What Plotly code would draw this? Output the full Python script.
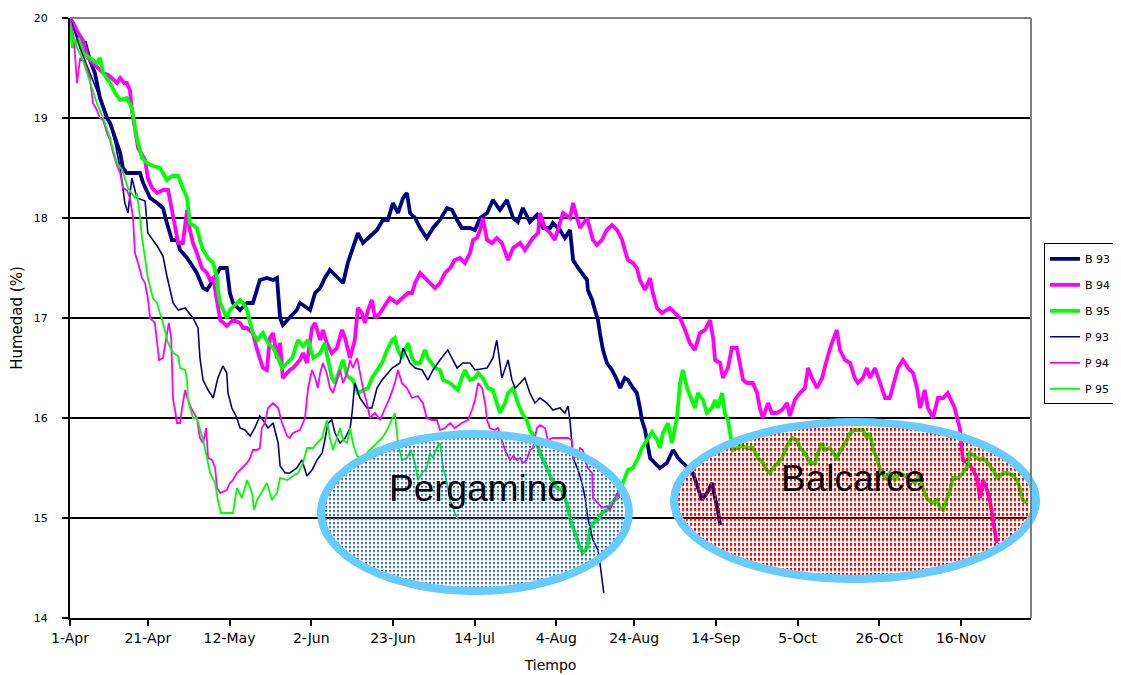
import base64
import plotly.graph_objects as go

# ---------------- data (day offset from 1-Apr, humidity %) ----------------
tick_days = [0, 20, 41, 62, 83, 104, 125, 145, 166, 187, 208, 229]
tick_labels = ["1-Apr", "21-Apr", "12-May", "2-Jun", "23-Jun", "14-Jul",
               "4-Aug", "24-Aug", "14-Sep", "5-Oct", "26-Oct", "16-Nov"]

b93_day = [0, 1.3, 2.6, 3.9, 5.1, 6.4, 7.7, 8.5, 9.5, 10.3, 11.6, 12.9, 13.6, 14.6, 16.2, 18.0, 18.8, 20.6, 22.4, 23.9,
           24.9, 26.2, 27.5, 28.3, 30.1, 31.6, 32.6, 34.2, 35.2, 36.8, 38.6, 40.3, 41.1, 41.9, 43.7, 45.5, 47.0, 48.8, 50.6, 52.2,
           53.2, 53.5, 54.0, 54.7, 56.5, 58.3, 59.1, 61.7, 63.0, 64.3, 65.5, 66.8, 68.4, 70.2, 71.4, 72.7, 74.0, 75.3, 76.6, 78.9,
           80.4, 81.7, 83.0, 84.3, 85.6, 86.6, 87.4, 88.7, 90.0, 91.7, 93.3, 95.1, 96.9, 98.2, 99.5, 100.7, 102.8, 104.1, 105.4, 107.2,
           108.7, 110.5, 112.3, 113.9, 115.1, 116.4, 118.2, 120.0, 121.6, 123.4, 124.1, 125.9, 127.2, 128.5, 129.0, 129.3, 130.6, 131.6, 132.9, 133.1,
           134.2, 134.9, 135.7, 136.2, 137.0, 138.0, 139.3, 140.6, 141.4, 142.6, 143.4, 144.7, 145.7, 146.5, 147.0, 147.8, 148.3, 149.1, 150.3, 151.6,
           153.4, 155.0, 156.3, 157.5, 160.1, 161.4, 162.4, 163.7, 165.0, 165.8, 166.5, 167.1]
b93_hum = [20.0, 19.9, 19.75, 19.75, 19.58, 19.45, 19.2, 19.1, 19.0, 18.95, 18.8, 18.65, 18.5, 18.45, 18.45, 18.45, 18.35, 18.2, 18.15, 18.1,
           17.95, 17.78, 17.78, 17.68, 17.6, 17.5, 17.45, 17.3, 17.28, 17.38, 17.5, 17.5, 17.25, 17.15, 17.08, 17.15, 17.15, 17.38, 17.4, 17.38,
           17.4, 17.25, 17.0, 16.93, 17.0, 17.08, 17.15, 17.08, 17.25, 17.3, 17.4, 17.48, 17.42, 17.35, 17.55, 17.7, 17.85, 17.75, 17.8, 17.88,
           17.98, 17.98, 18.15, 18.05, 18.2, 18.25, 18.05, 18.0, 17.9, 17.8, 17.9, 17.98, 18.1, 18.08, 17.98, 17.9, 17.9, 17.88, 18.0, 18.05,
           18.18, 18.08, 18.18, 18.0, 17.96, 18.1, 17.96, 18.03, 17.9, 17.9, 17.95, 17.88, 17.8, 17.88, 17.7, 17.58, 17.5, 17.45, 17.38, 17.28,
           17.18, 17.08, 16.98, 16.85, 16.68, 16.55, 16.48, 16.38, 16.3, 16.4, 16.38, 16.3, 16.25, 16.1, 15.98, 15.88, 15.78, 15.6, 15.55, 15.5,
           15.55, 15.68, 15.6, 15.55, 15.45, 15.3, 15.18, 15.25, 15.35, 15.2, 15.08, 14.93]

b94_day = [0, 0.8, 2.1, 3.3, 4.6, 5.9, 7.2, 8.5, 9.8, 11.1, 12.1, 12.9, 13.9, 14.6, 15.4, 15.9, 16.7, 17.5, 19.3, 20.0,
           21.1, 22.4, 23.9, 25.2, 26.2, 27.0, 27.8, 29.0, 29.8, 30.1, 30.8, 31.6, 32.6, 33.9, 35.2, 36.0, 36.8, 37.5, 38.6, 40.3,
           41.9, 43.7, 44.5, 45.5, 47.0, 48.1, 48.8, 49.6, 50.6, 51.4, 52.2, 53.2, 54.0, 54.7, 56.5, 57.3, 59.1, 59.9, 60.9, 62.2,
           63.0, 64.3, 65.0, 66.0, 67.3, 68.6, 69.9, 70.7, 72.0, 73.2, 74.0, 75.0, 75.8, 76.6, 77.6, 78.4, 79.7, 81.0, 82.2, 84.0,
           85.6, 86.9, 87.9, 88.7, 90.0, 91.2, 92.5, 93.8, 95.1, 96.4, 97.7, 98.9, 100.2, 101.5, 102.8, 103.6, 104.6, 105.4, 106.1, 107.2,
           108.5, 109.7, 111.0, 111.8, 112.6, 113.9, 115.7, 116.9, 118.2, 119.0, 120.3, 120.8, 122.1, 123.4, 124.6, 126.7, 128.5, 129.3, 130.3, 131.1,
           132.9, 133.6, 134.4, 135.4, 136.7, 138.0, 139.3, 140.6, 141.9, 142.6, 143.4, 144.7, 145.7, 146.5, 147.8, 149.1, 149.8, 150.9, 152.1, 153.4,
           154.2, 155.5, 156.8, 158.1, 159.3, 160.6, 161.9, 163.2, 164.5, 165.3, 165.8, 167.1, 167.8, 169.1, 170.1, 171.4, 172.2, 173.0, 174.0, 175.5,
           176.6, 177.3, 178.1, 179.4, 180.4, 181.7, 183.0, 184.3, 185.0, 186.3, 187.6, 188.9, 189.7, 190.7, 192.0, 193.3, 194.5, 195.8, 197.1, 197.9,
           199.2, 200.5, 201.7, 202.5, 203.8, 204.8, 205.6, 206.9, 208.2, 209.5, 210.7, 212.0, 212.8, 214.1, 215.4, 216.7, 217.7, 218.5, 219.7, 220.5,
           221.8, 223.1, 224.4, 225.6, 226.7, 227.4, 228.0, 228.7, 229.2, 229.5, 230.8, 232.1, 233.1, 233.9, 234.6, 235.7, 236.4, 237.2, 237.7, 238.2]
b94_hum = [20.0, 19.95, 19.85, 19.78, 19.6, 19.55, 19.5, 19.45, 19.43, 19.38, 19.35, 19.4, 19.35, 19.35, 19.28, 19.08, 18.88, 18.7, 18.58, 18.4,
           18.3, 18.25, 18.28, 18.28, 18.08, 17.9, 17.75, 17.75, 17.95, 18.08, 17.88, 17.75, 17.65, 17.5, 17.45, 17.38, 17.4, 17.25, 16.98, 16.92,
           16.98, 16.95, 16.9, 16.9, 16.85, 16.68, 16.58, 16.5, 16.48, 16.8, 16.85, 16.6, 16.75, 16.4, 16.48, 16.5, 16.58, 16.65, 16.55, 16.9,
           16.95, 16.78, 16.88, 16.75, 16.65, 16.7, 16.88, 16.8, 16.6, 16.78, 17.1, 17.05, 16.95, 17.08, 17.18, 17.0, 17.05, 17.12, 17.2, 17.15,
           17.2, 17.25, 17.25, 17.35, 17.45, 17.4, 17.35, 17.3, 17.35, 17.45, 17.5, 17.58, 17.6, 17.55, 17.65, 17.78, 17.8, 17.88, 18.0, 17.78,
           17.75, 17.8, 17.75, 17.65, 17.58, 17.7, 17.75, 17.68, 17.75, 17.8, 17.85, 18.05, 17.9, 17.85, 17.78, 18.05, 18.0, 18.15, 18.0, 17.9,
           18.0, 17.9, 17.78, 17.73, 17.78, 17.88, 17.93, 17.88, 17.78, 17.68, 17.58, 17.55, 17.5, 17.38, 17.28, 17.4, 17.25, 17.1, 17.05, 17.08,
           17.1, 17.05, 17.0, 16.88, 16.75, 16.68, 16.85, 16.88, 16.98, 16.8, 16.58, 16.55, 16.4, 16.5, 16.7, 16.7, 16.55, 16.38, 16.35, 16.35,
           16.25, 16.1, 16.0, 16.15, 16.05, 16.05, 16.08, 16.15, 16.02, 16.18, 16.25, 16.3, 16.5, 16.4, 16.3, 16.4, 16.58, 16.75, 16.88, 16.68,
           16.58, 16.55, 16.4, 16.35, 16.4, 16.5, 16.4, 16.5, 16.35, 16.2, 16.2, 16.4, 16.5, 16.58, 16.5, 16.45, 16.3, 16.1, 16.28, 16.1,
           16.0, 16.2, 16.2, 16.25, 16.15, 16.1, 16.0, 15.9, 15.7, 15.58, 15.55, 15.48, 15.4, 15.2, 15.38, 15.28, 15.18, 15.0, 14.85, 14.75]

b95_day = [0, 0.8, 2.1, 3.3, 5.1, 6.9, 7.7, 8.5, 10.3, 11.6, 12.9, 14.6, 15.9, 16.4, 17.2, 18.5, 19.8, 21.3, 23.1, 23.9,
           24.9, 26.2, 27.8, 29.0, 30.1, 30.8, 32.6, 33.4, 34.2, 35.5, 36.8, 37.8, 38.0, 38.6, 39.8, 40.3, 41.1, 42.1, 43.7, 44.5,
           45.5, 46.3, 47.0, 48.1, 49.6, 50.9, 52.2, 53.5, 54.5, 55.8, 57.1, 58.6, 59.9, 61.2, 62.5, 64.3, 65.5, 66.3, 67.3, 68.1,
           69.4, 70.2, 71.2, 72.7, 74.0, 75.3, 76.6, 77.6, 78.9, 80.2, 81.5, 82.8, 83.5, 84.3, 85.3, 86.9, 87.9, 88.7, 90.0, 91.2,
           92.0, 93.0, 93.8, 95.1, 95.9, 97.7, 98.9, 99.7, 100.7, 101.5, 102.8, 104.1, 104.9, 106.1, 107.4, 108.7, 109.7, 110.5, 111.8, 112.6,
           113.9, 115.1, 116.2, 117.4, 118.2, 119.5, 120.8, 122.1, 122.8, 123.9, 125.2, 126.4, 127.7, 128.5, 129.3, 130.3, 131.1, 131.8, 132.9, 133.6,
           134.4, 135.7, 136.7, 138.0, 139.3, 140.6, 142.1, 143.4, 144.7, 146.0, 147.0, 148.3, 149.6, 150.9, 151.6, 152.4, 153.7, 154.7, 155.5, 156.0,
           156.8, 157.5, 158.6, 159.8, 160.6, 161.4, 162.7, 163.7, 165.0, 165.8, 166.5, 167.6, 168.3, 169.1, 169.6, 170.4, 171.4, 172.7, 174.0, 175.5,
           176.8, 178.1, 179.1, 179.9, 180.7, 181.7, 183.0, 184.3, 185.6, 186.8, 187.6, 188.9, 190.2, 191.5, 192.2, 193.3, 194.0, 195.3, 196.1, 197.1,
           198.4, 199.7, 200.5, 201.7, 203.8, 204.8, 205.6, 206.4, 207.4, 208.2, 209.5, 210.7, 212.0, 213.3, 214.6, 215.9, 217.2, 218.5, 219.2, 220.2,
           221.5, 222.8, 223.6, 224.4, 225.4, 226.2, 226.9, 228.2, 229.5, 230.5, 231.3, 232.6, 233.9, 234.6, 235.9, 237.2, 238.5, 239.8, 241.1, 242.4,
           243.4, 244.2, 244.9, 246.0]
b95_hum = [19.95, 19.7, 19.8, 19.65, 19.6, 19.55, 19.6, 19.45, 19.35, 19.25, 19.18, 19.2, 19.1, 18.98, 18.8, 18.6, 18.55, 18.52, 18.5, 18.45,
           18.38, 18.42, 18.42, 18.3, 18.2, 17.95, 17.9, 17.78, 17.68, 17.6, 17.55, 17.4, 17.28, 17.15, 17.05, 17.0, 17.08, 17.12, 17.18, 17.15,
           17.08, 16.95, 16.85, 16.78, 16.85, 16.75, 16.7, 16.6, 16.5, 16.55, 16.6, 16.78, 16.72, 16.78, 16.6, 16.65, 16.75, 16.58, 16.4, 16.35,
           16.5, 16.58, 16.42, 16.38, 16.25, 16.28, 16.3, 16.4, 16.48, 16.55, 16.68, 16.78, 16.8, 16.68, 16.6, 16.75, 16.6, 16.55, 16.55, 16.68,
           16.6, 16.55, 16.5, 16.48, 16.38, 16.35, 16.3, 16.28, 16.4, 16.48, 16.38, 16.4, 16.45, 16.4, 16.3, 16.28, 16.15, 16.05, 16.15, 16.25,
           16.3, 16.15, 16.05, 15.98, 15.88, 15.8, 15.65, 15.55, 15.48, 15.38, 15.3, 15.28, 15.15, 15.0, 14.9, 14.8, 14.7, 14.65, 14.7, 14.88,
           14.95, 14.98, 15.05, 15.08, 15.15, 15.2, 15.35, 15.48, 15.5, 15.6, 15.7, 15.78, 15.86, 15.78, 15.7, 15.85, 15.95, 15.75, 15.9, 16.0,
           16.35, 16.48, 16.3, 16.18, 16.1, 16.25, 16.18, 16.05, 16.1, 16.18, 16.1, 16.25, 16.05, 15.98, 15.85, 15.68, 15.7, 15.72, 15.7, 15.7,
           15.6, 15.55, 15.48, 15.45, 15.5, 15.55, 15.6, 15.72, 15.8, 15.78, 15.7, 15.65, 15.55, 15.55, 15.65, 15.75, 15.68, 15.7, 15.65, 15.6,
           15.7, 15.78, 15.85, 15.88, 15.88, 15.8, 15.85, 15.68, 15.6, 15.48, 15.4, 15.45, 15.38, 15.45, 15.42, 15.38, 15.35, 15.45, 15.3, 15.2,
           15.15, 15.18, 15.1, 15.08, 15.18, 15.28, 15.4, 15.4, 15.45, 15.5, 15.65, 15.62, 15.58, 15.6, 15.55, 15.48, 15.4, 15.45, 15.45, 15.42,
           15.38, 15.28, 15.18, 15.15]

p93_day = [0, 2.6, 5.1, 7.7, 10.3, 11.6, 12.9, 14.1, 14.9, 15.9, 17.2, 19.3, 20.0, 22.4, 23.9, 24.9, 26.5, 27.8, 29.6, 31.6,
           32.9, 33.4, 34.2, 35.5, 36.8, 38.0, 39.3, 40.3, 40.6, 41.6, 42.9, 43.7, 45.0, 46.3, 47.5, 48.8, 49.6, 50.9, 52.2, 53.5,
           54.0, 55.3, 56.5, 58.3, 59.6, 60.9, 62.2, 63.5, 64.8, 65.5, 66.3, 67.3, 68.1, 69.4, 70.7, 72.0, 72.5, 73.2, 74.5, 76.3,
           77.6, 78.9, 80.2, 82.8, 84.8, 85.6, 87.4, 88.7, 90.5, 92.0, 93.3, 95.1, 97.1, 98.4, 99.5, 101.0, 102.8, 104.1, 107.2, 108.7,
           109.7, 111.0, 112.6, 113.6, 114.4, 115.7, 116.9, 118.2, 119.5, 120.8, 122.6, 124.1, 125.9, 127.2, 128.0, 128.5, 129.3, 130.6, 131.6, 132.4,
           133.1, 134.4, 135.7, 136.2, 136.7, 137.2]
p93_hum = [20.0, 19.7, 19.45, 19.2, 18.95, 18.75, 18.5, 18.15, 18.05, 18.4, 18.2, 18.17, 17.85, 17.72, 17.62, 17.42, 17.15, 17.08, 17.1, 17.0,
           16.9, 16.6, 16.38, 16.28, 16.2, 16.4, 16.52, 16.45, 16.25, 16.1, 16.0, 15.9, 15.88, 15.82, 15.9, 16.02, 15.98, 15.9, 15.95, 15.75,
           15.52, 15.45, 15.45, 15.5, 15.58, 15.42, 15.48, 15.58, 15.65, 15.78, 15.95, 15.98, 15.85, 15.75, 15.8, 15.9, 16.05, 16.35, 16.2, 16.1,
           16.1, 16.3, 16.38, 16.5, 16.55, 16.7, 16.55, 16.5, 16.48, 16.38, 16.48, 16.58, 16.68, 16.58, 16.5, 16.55, 16.55, 16.48, 16.5, 16.6,
           16.78, 16.4, 16.58, 16.38, 16.3, 16.35, 16.4, 16.25, 16.15, 16.2, 16.15, 16.08, 16.1, 16.05, 16.12, 15.98, 15.6, 15.48, 15.35, 15.2,
           15.0, 14.78, 14.68, 14.55, 14.4, 14.25]

p94_day = [0, 1.0, 1.8, 2.6, 3.9, 5.1, 5.9, 6.9, 7.7, 8.5, 9.5, 10.3, 11.1, 12.1, 12.9, 13.6, 14.6, 15.4, 15.9, 16.2,
           16.7, 17.5, 18.5, 19.3, 20.0, 20.6, 21.8, 22.4, 22.9, 23.9, 24.9, 25.4, 26.0, 26.2, 26.5, 27.0, 27.5, 28.3, 28.8, 29.6,
           30.3, 31.4, 32.6, 33.4, 34.2, 35.0, 35.5, 36.5, 37.3, 37.8, 38.6, 40.3, 41.1, 41.9, 42.9, 43.7, 45.5, 46.3, 47.0, 48.1,
           48.8, 49.3, 50.1, 50.9, 52.2, 53.5, 54.5, 55.8, 56.5, 57.3, 59.1, 60.4, 61.2, 62.2, 63.0, 63.7, 64.3, 65.0, 66.0, 66.8,
           67.6, 68.6, 69.4, 70.2, 71.2, 72.0, 72.7, 73.8, 74.5, 75.3, 76.3, 77.1, 78.4, 79.7, 81.0, 82.2, 83.5, 84.3, 85.3, 86.6,
           87.9, 89.4, 90.7, 91.7, 93.0, 94.3, 95.1, 96.4, 97.7, 98.9, 100.7, 102.3, 103.3, 104.1, 104.9, 105.9, 106.7, 107.2, 107.9, 109.2,
           110.0, 111.0, 111.8, 113.1, 113.9, 114.9, 115.7, 116.4, 117.4, 118.2, 119.0, 120.0, 120.8, 122.1, 122.8, 124.1, 126.4, 128.0, 129.0, 129.3,
           130.3, 131.1, 131.8, 133.1, 134.2, 134.4, 135.7, 136.7, 138.0, 138.8, 139.6, 140.6, 141.4]
p94_hum = [20.0, 19.8, 19.35, 19.6, 19.55, 19.4, 19.15, 19.08, 19.0, 18.98, 18.85, 18.78, 18.65, 18.52, 18.45, 18.3, 18.28, 18.2, 18.08, 18.0,
           17.65, 17.55, 17.4, 17.35, 17.2, 17.0, 16.95, 16.75, 16.58, 16.6, 16.85, 16.95, 16.8, 16.5, 16.18, 16.08, 15.95, 15.95, 16.1, 16.28,
           16.18, 16.08, 16.0, 15.8, 15.75, 15.9, 15.6, 15.58, 15.5, 15.3, 15.25, 15.28, 15.35, 15.38, 15.45, 15.48, 15.55, 15.6, 15.68, 15.68,
           15.7, 15.9, 15.95, 16.1, 16.15, 16.1, 15.95, 15.82, 15.8, 15.85, 15.88, 16.0, 16.3, 16.48, 16.4, 16.3, 16.45, 16.55, 16.45, 16.3,
           16.25, 16.38, 16.48, 16.35, 16.45, 16.58, 16.5, 16.6, 16.45, 16.3, 16.15, 16.0, 16.05, 15.98, 16.1, 16.2, 16.35, 16.48, 16.35, 16.3,
           16.2, 16.22, 16.15, 16.0, 15.98, 15.98, 15.88, 15.9, 15.95, 15.9, 15.95, 15.98, 16.08, 16.18, 16.35, 16.3, 16.15, 15.98, 15.9, 15.88,
           15.9, 15.78, 15.68, 15.58, 15.62, 15.58, 15.6, 15.55, 15.58, 15.68, 15.7, 15.9, 15.93, 15.9, 15.78, 15.8, 15.8, 15.8, 15.78, 15.6,
           15.62, 15.7, 15.68, 15.5, 15.45, 15.2, 15.15, 15.1, 15.12, 15.08, 15.15, 15.25, 15.2]

p95_day = [0, 0.8, 1.8, 3.1, 4.4, 5.7, 6.9, 8.5, 10.3, 11.1, 12.1, 13.4, 14.1, 14.9, 16.7, 17.2, 18.0, 18.5, 19.3, 20.0,
           21.3, 22.4, 23.1, 23.9, 25.2, 26.5, 27.8, 28.3, 29.6, 30.1, 30.3, 31.6, 32.6, 33.4, 34.2, 35.2, 36.0, 37.3, 38.0, 38.8,
           40.6, 41.9, 42.4, 42.9, 44.2, 45.5, 46.8, 47.3, 48.1, 49.6, 50.6, 51.9, 53.2, 54.0, 55.8, 57.3, 58.6, 59.9, 60.9, 62.5,
           63.5, 64.8, 65.5, 66.0, 66.8, 67.6, 68.6, 69.4, 70.2, 71.2, 72.0, 72.7, 73.8, 75.0, 76.3, 77.6, 78.9, 80.2, 81.5, 82.8,
           83.5, 84.3, 85.3, 86.6, 87.6, 88.7, 89.4, 90.5, 91.7, 92.5, 93.3, 94.3, 95.1, 95.9, 96.9, 97.7, 98.4, 99.5]
p95_hum = [19.95, 19.8, 19.7, 19.6, 19.45, 19.3, 19.15, 19.0, 18.8, 18.68, 18.55, 18.48, 18.4, 18.3, 18.2, 18.25, 18.0, 17.8, 17.6, 17.4,
           17.2, 17.15, 17.05, 16.95, 16.75, 16.65, 16.62, 16.5, 16.48, 16.38, 16.18, 16.0, 16.0, 15.9, 15.78, 15.6, 15.45, 15.35, 15.18, 15.05,
           15.05, 15.05, 15.18, 15.3, 15.2, 15.38, 15.25, 15.08, 15.18, 15.28, 15.35, 15.18, 15.25, 15.4, 15.38, 15.42, 15.45, 15.55, 15.7, 15.7,
           15.75, 15.8, 15.9, 15.98, 15.8, 15.68, 15.8, 15.9, 15.78, 15.75, 15.9, 15.75, 15.62, 15.6, 15.65, 15.7, 15.75, 15.8, 15.88, 15.98,
           16.05, 15.75, 15.58, 15.6, 15.68, 15.55, 15.38, 15.45, 15.5, 15.65, 15.6, 15.7, 15.75, 15.5, 15.35, 15.18, 15.1, 15.0]

series_names = ["B 93", "B 94", "B 95", "P 93", "P 94", "P 95"]

# ---------------- styles ----------------
NAVY, MAGENTA, GREEN = "#000080", "#FF00FF", "#00FF00"
series = [
    (b93_day, b93_hum, NAVY, 3.8),
    (b94_day, b94_hum, MAGENTA, 3.8),
    (b95_day, b95_hum, GREEN, 3.8),
    (p93_day, p93_hum, NAVY, 1.6),
    (p94_day, p94_hum, MAGENTA, 1.8),
    (p95_day, p95_hum, GREEN, 1.8),
]

fig = go.Figure()
for name, (xd, yv, col, w) in zip(series_names, series):
    fig.add_trace(go.Scatter(x=xd, y=yv, mode="lines", name=name, legendgroup=name,
                             line=dict(color=col, width=w)))


def ellipse_svg(w, h, dot_color, dot_w, dot_h, pitch_x, pitch_y, stroke="#66CCFF", sw=8):
    svg = (f'<svg xmlns="http://www.w3.org/2000/svg" width="{w}" height="{h}" viewBox="0 0 {w} {h}">'
           f'<defs><pattern id="d" width="{pitch_x}" height="{pitch_y}" patternUnits="userSpaceOnUse">'
           f'<rect x="0" y="0" width="{dot_w}" height="{dot_h}" fill="{dot_color}"/></pattern></defs>'
           f'<ellipse cx="{w/2}" cy="{h/2}" rx="{w/2 - sw/2}" ry="{h/2 - sw/2}" fill="url(#d)" '
           f'stroke="{stroke}" stroke-width="{sw}"/></svg>')
    return "data:image/svg+xml;base64," + base64.b64encode(svg.encode()).decode()


pergamino_img = ellipse_svg(316, 165, "#3366CC", 2, 2, 4, 4)
balcarce_img = ellipse_svg(370, 165, "#FF0000", 2, 3, 4, 5)

fig.update_layout(
    images=[
        dict(source=pergamino_img, xref="paper", yref="paper", x=0.2570, y=0.3133,
             sizex=0.3288, sizey=0.275, xanchor="left", yanchor="top",
             sizing="stretch", layer="above"),
        dict(source=balcarce_img, xref="paper", yref="paper", x=0.6244, y=0.3333,
             sizex=0.3850, sizey=0.275, xanchor="left", yanchor="top",
             sizing="stretch", layer="above"),
    ],
    annotations=[
        dict(text="Pergamino", x=104.9, y=15.30, xref="x", yref="y", showarrow=False,
             font=dict(family="Arial, Liberation Sans", size=37, color="black")),
        dict(text="Balcarce", x=201.3, y=15.40, xref="x", yref="y", showarrow=False,
             font=dict(family="Arial, Liberation Sans", size=37, color="black")),
    ],
    shapes=[
        dict(type="line", xref="paper", yref="paper", x0=0, x1=1, y0=1, y1=1,
             line=dict(color="#808080", width=2), layer="above"),
        dict(type="line", xref="paper", yref="paper", x0=1, x1=1, y0=0, y1=1,
             line=dict(color="#808080", width=2), layer="above"),
    ],
)

# the page body adds an 8px offset, so the figure is sized to compensate
fig.update_layout(
    width=1113, height=667,
    margin=dict(l=62, r=90, t=10, b=57, autoexpand=False),
    paper_bgcolor="white", plot_bgcolor="white",
    font=dict(family="DejaVu Sans", color="black"),
    showlegend=True,
    legend=dict(x=1.0135, y=0.6245, xanchor="left", yanchor="top",
                bordercolor="black", borderwidth=1, bgcolor="white",
                font=dict(family="DejaVu Sans", size=11, color="black"),
                tracegroupgap=7),
    xaxis=dict(range=[0, 247], tickmode="array", tickvals=tick_days, ticktext=tick_labels,
               showgrid=False, zeroline=False, showline=True, linecolor="black", linewidth=2,
               ticks="outside", ticklen=6, tickwidth=1.5, tickcolor="black",
               tickfont=dict(family="DejaVu Sans", size=14),
               title=dict(text="Tiempo", font=dict(family="DejaVu Sans", size=14), standoff=15),
               automargin=False),
    yaxis=dict(range=[14, 20], dtick=1, tick0=14,
               showgrid=True, gridcolor="black", gridwidth=1.5,
               zeroline=False, showline=True, linecolor="black", linewidth=2,
               ticks="outside", ticklen=6, tickwidth=1.5, tickcolor="black",
               ticklabelstandoff=12,
               tickfont=dict(family="DejaVu Sans", size=11),
               title=dict(text="Humedad (%)", font=dict(family="DejaVu Sans", size=15), standoff=8),
               automargin=False),
)

fig.write_html("out.html")
